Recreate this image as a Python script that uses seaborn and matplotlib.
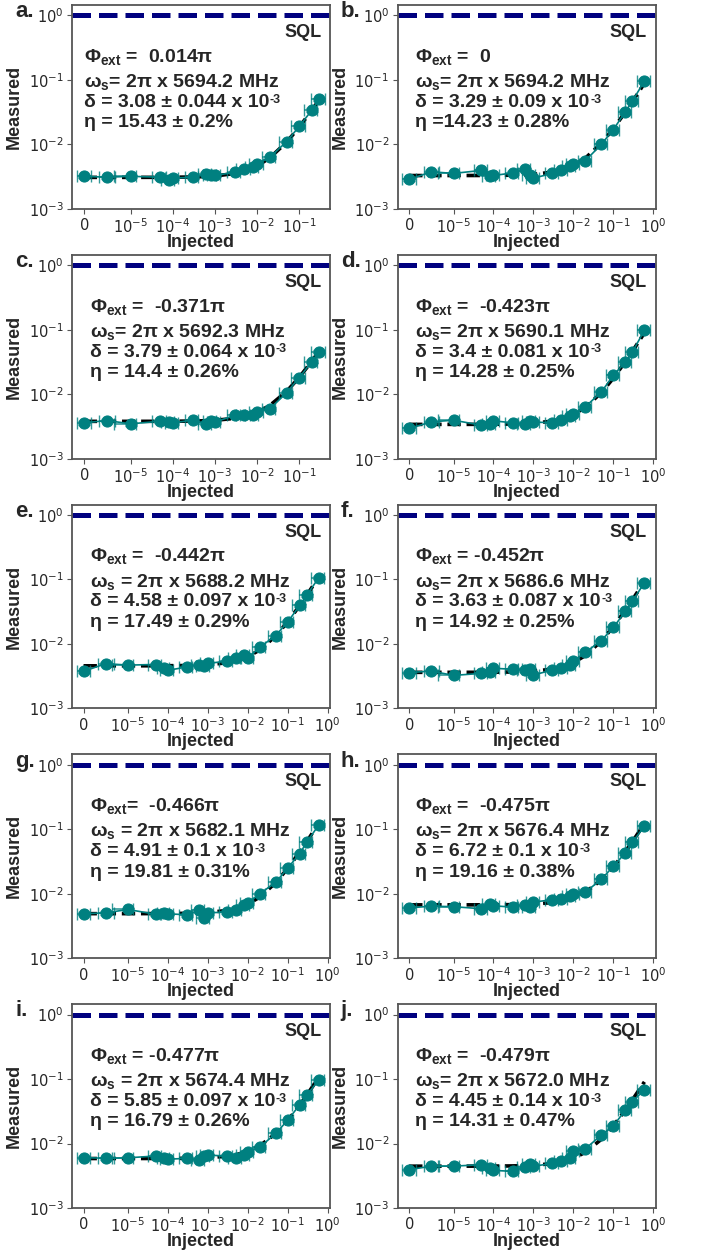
import numpy as np
import pandas as pd
import seaborn as sns
import matplotlib.pyplot as plt

# injected power (panels a and c stop at 0.3)
injected_short = [0, 5e-6, 1e-5, 5e-5, 8e-5, 1e-4, 3e-4, 6e-4, 8e-4, 1e-3,
                  3e-3, 5e-3, 8e-3, 1e-2, 2e-2, 5e-2, 1e-1, 2e-1, 3e-1]
injected_long = injected_short + [6e-1]

# measured noise
measured_a = [3.2e-3, 3.1e-3, 3.2e-3, 3.1e-3, 2.8e-3, 3.0e-3, 3.1e-3, 3.5e-3, 3.3e-3, 3.3e-3,
              3.7e-3, 4.1e-3, 4.4e-3, 5.0e-3, 6.3e-3, 1.1e-2, 1.9e-2, 3.4e-2, 5.0e-2]
measured_b = [2.86e-3, 3.76e-3, 3.55e-3, 3.95e-3, 3.23e-3, 3.3e-3, 3.6e-3, 4.1e-3, 3.4e-3, 3.0e-3,
              3.55e-3, 3.95e-3, 4.6e-3, 4.9e-3, 5.6e-3, 1.0e-2, 1.7e-2, 3.2e-2, 4.7e-2, 9.6e-2]
measured_c = [3.6e-3, 3.9e-3, 3.47e-3, 3.8e-3, 3.7e-3, 3.6e-3, 3.95e-3, 3.5e-3, 3.8e-3, 3.7e-3,
              4.7e-3, 4.7e-3, 4.7e-3, 5.3e-3, 5.9e-3, 1.05e-2, 1.8e-2, 3.2e-2, 4.55e-2]
measured_d = [2.94e-3, 3.72e-3, 3.95e-3, 3.3e-3, 3.4e-3, 3.86e-3, 3.6e-3, 3.5e-3, 3.86e-3, 3.7e-3,
              3.6e-3, 3.95e-3, 4.6e-3, 4.85e-3, 6.4e-3, 1.08e-2, 1.95e-2, 3.15e-2, 4.5e-2, 9.8e-2]
measured_e = [3.76e-3, 4.95e-3, 4.7e-3, 4.8e-3, 4.3e-3, 3.9e-3, 4.4e-3, 4.8e-3, 4.6e-3, 5.0e-3,
              5.4e-3, 6.05e-3, 6.8e-3, 6.05e-3, 8.9e-3, 1.35e-2, 2.2e-2, 3.95e-2, 5.7e-2, 1.07e-1]
measured_f = [3.6e-3, 3.8e-3, 3.25e-3, 3.5e-3, 3.7e-3, 4.2e-3, 4.05e-3, 3.95e-3, 4.05e-3, 3.3e-3,
              3.95e-3, 4.2e-3, 4.8e-3, 5.45e-3, 7.4e-3, 1.13e-2, 1.8e-2, 3.2e-2, 4.6e-2, 8.9e-2]
measured_g = [4.9e-3, 5.05e-3, 5.7e-3, 4.8e-3, 5.05e-3, 4.9e-3, 4.7e-3, 5.5e-3, 4.24e-3, 5.05e-3,
              5.2e-3, 5.5e-3, 6.75e-3, 7.2e-3, 1.0e-2, 1.5e-2, 2.5e-2, 4.2e-2, 6.3e-2, 1.17e-1]
measured_h = [6.05e-3, 6.4e-3, 6.3e-3, 5.85e-3, 6.95e-3, 6.5e-3, 6.2e-3, 6.8e-3, 6.2e-3, 7.4e-3,
              8.1e-3, 8.35e-3, 9.1e-3, 1.0e-2, 1.06e-2, 1.67e-2, 2.66e-2, 4.3e-2, 6.3e-2, 1.11e-1]
measured_i = [6.05e-3, 5.9e-3, 6.0e-3, 6.4e-3, 6.05e-3, 5.7e-3, 5.9e-3, 5.6e-3, 6.4e-3, 6.6e-3,
              6.4e-3, 6.05e-3, 6.7e-3, 7.4e-3, 8.8e-3, 1.43e-2, 2.3e-2, 4.0e-2, 5.6e-2, 9.7e-2]
measured_j = [3.93e-3, 4.45e-3, 4.45e-3, 4.7e-3, 4.1e-3, 3.83e-3, 3.7e-3, 4.3e-3, 4.75e-3, 4.45e-3,
              4.9e-3, 5.4e-3, 5.96e-3, 7.7e-3, 8.3e-3, 1.35e-2, 1.87e-2, 3.3e-2, 4.45e-2, 6.8e-2]

panel_labels = ['a.', 'b.', 'c.', 'd.', 'e.', 'f.', 'g.', 'h.', 'i.', 'j.']

# fit parameters: delta (x 1e-3) and eta (%)
delta_val = [3.08, 3.29, 3.79, 3.4, 4.58, 3.63, 4.91, 6.72, 5.85, 4.45]
eta_val = [15.43, 14.23, 14.4, 14.28, 17.49, 14.92, 19.81, 19.16, 16.79, 14.31]

phi_txt = [' =  0.014π', ' =  0', ' =  -0.371π', ' =  -0.423π', ' =  -0.442π',
           ' = -0.452π', '=  -0.466π', ' =  -0.475π', ' = -0.477π', ' =  -0.479π']
omega_txt = ['= 2π x 5694.2 MHz', '= 2π x 5694.2 MHz', '= 2π x 5692.3 MHz', '= 2π x 5690.1 MHz',
             ' = 2π x 5688.2 MHz', '= 2π x 5686.6 MHz', ' = 2π x 5682.1 MHz', '= 2π x 5676.4 MHz',
             ' = 2π x 5674.4 MHz', '= 2π x 5672.0 MHz']
delta_txt = ['3.08 ± 0.044', '3.29 ± 0.09', '3.79 ± 0.064', '3.4 ± 0.081', '4.58 ± 0.097',
             '3.63 ± 0.087', '4.91 ± 0.1', '6.72 ± 0.1', '5.85 ± 0.097', '4.45 ± 0.14']
eta_txt = ['= 15.43 ± 0.2%', '=14.23 ± 0.28%', '= 14.4 ± 0.26%', '= 14.28 ± 0.25%', '= 17.49 ± 0.29%',
           '= 14.92 ± 0.25%', '= 19.81 ± 0.31%', '= 19.16 ± 0.38%', '= 16.79 ± 0.26%', '= 14.31 ± 0.47%']

measured = [measured_a, measured_b, measured_c, measured_d, measured_e,
            measured_f, measured_g, measured_h, measured_i, measured_j]

sns.set_style('ticks')
plt.rcParams['font.family'] = ['DejaVu Sans']
plt.rcParams['mathtext.fontset'] = 'custom'
plt.rcParams['mathtext.rm'] = 'DejaVu Sans'
plt.rcParams['mathtext.it'] = 'DejaVu Sans:italic'
plt.rcParams['mathtext.bf'] = 'Liberation Sans:bold'
plt.rcParams['axes.edgecolor'] = '#555555'
plt.rcParams['axes.linewidth'] = 1.3

teal = '#008080'
navy = '#00007f'
bold = dict(family='Liberation Sans', weight='bold')

fig, axes = plt.subplots(5, 2, figsize=(7.05, 12.51), dpi=100)
plt.subplots_adjust(left=72/705, right=656/705, top=1-5/1251, bottom=1-1208/1251,
                    wspace=0.26, hspace=0.225)

for k, ax in enumerate(axes.flat):
    y = np.array(measured[k])
    x = np.array(injected_long[:len(y)])
    fit = delta_val[k]*1e-3 + eta_val[k]/100*x
    df = pd.DataFrame({'Injected': x, 'Measured': y, 'fit': fit})

    ax.axhline(1, color=navy, ls='--', lw=3.6, zorder=1)
    sns.lineplot(data=df, x='Injected', y='fit', ax=ax, color='black', lw=2.6,
                 linestyle='--', zorder=2)
    xerr = np.where(x > 0, 0.35*x, 1.5e-6)
    ax.errorbar(x, y, xerr=xerr, yerr=0.06*y, fmt='none', ecolor=teal, elinewidth=1.2,
                capsize=4, alpha=0.8, zorder=3)
    sns.lineplot(data=df, x='Injected', y='Measured', ax=ax, color=teal, lw=1.2,
                 marker='o', markersize=8, markeredgecolor=teal, zorder=4)

    ax.set_xscale('symlog', linthresh=1e-5)
    ax.set_yscale('log')
    ax.set_xticks([0, 1e-5, 1e-4, 1e-3, 1e-2, 1e-1, 1e0])
    if len(y) == 19:
        ax.set_xlim(-2.5e-6, 0.55)
    else:
        ax.set_xlim(-2.6e-6, 1.17)
    ax.set_ylim(1e-3, 1.45)
    ax.minorticks_off()
    ax.tick_params(labelsize=10.5, length=3.5, pad=2.5, color='#555555')

    ax.set_xlabel('Injected', fontsize=13, **bold, labelpad=-1.5)
    ax.set_ylabel('Measured', fontsize=13, **bold)

    ax.text(0.965, 0.843, 'SQL', transform=ax.transAxes, ha='right', va='baseline',
            fontsize=13, **bold)
    ax.text(-0.22, 0.94, panel_labels[k], transform=ax.transAxes, ha='left', va='baseline',
            fontsize=16, **bold)

    tx = 0.045 if k == 0 else 0.068
    ax.text(tx, 0.721, r'$\mathbf{\Phi_{ext}}$' + phi_txt[k], transform=ax.transAxes,
            ha='left', va='baseline', fontsize=14, **bold)
    ax.text(tx, 0.598, r'$\mathbf{\omega_s}$' + omega_txt[k], transform=ax.transAxes,
            ha='left', va='baseline', fontsize=14, **bold)
    t_delta = ax.text(tx, 0.5, 'δ = ' + delta_txt[k] + ' x 10', transform=ax.transAxes,
                      ha='left', va='baseline', fontsize=14, **bold)
    ax.annotate('-3', xy=(1, 0), xycoords=t_delta, xytext=(0.5, 6), textcoords='offset points',
                ha='left', va='baseline', fontsize=9, **bold)
    ax.text(tx, 0.4, 'η ' + eta_txt[k], transform=ax.transAxes,
            ha='left', va='baseline', fontsize=14, **bold)

plt.savefig('out.png', dpi=100)
